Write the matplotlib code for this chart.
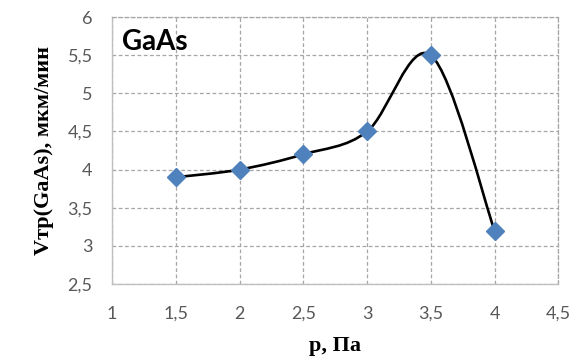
import matplotlib
matplotlib.use("Agg")
import matplotlib.pyplot as plt
import numpy as np
from matplotlib.path import Path
from matplotlib.patches import PathPatch

# Data
pressure = [1.5, 2.0, 2.5, 3.0, 3.5, 4.0]
rate = [3.9, 4.0, 4.2, 4.5, 5.5, 3.2]

x_ticks = [1, 1.5, 2, 2.5, 3, 3.5, 4, 4.5]
y_ticks = [2.5, 3, 3.5, 4, 4.5, 5, 5.5, 6]

MARKER_BLUE = "#4f81bd"
TICK_GRAY = "#595959"
GRID_GRAY = "#a6a6a6"


def fmt(v):
    s = f"{v:g}"
    return s.replace(".", ",")


def smooth_path(xs, ys):
    """Excel-like smoothed line as cubic Bezier segments."""
    pts = np.column_stack([xs, ys])
    n = len(pts)
    verts = [pts[0]]
    codes = [Path.MOVETO]
    for i in range(n - 1):
        p0 = pts[i - 1] if i > 0 else pts[i]
        p1 = pts[i]
        p2 = pts[i + 1]
        p3 = pts[i + 2] if i + 2 < n else pts[i + 1]
        c1 = p1 + (p2 - p0) / 6.0
        c2 = p2 - (p3 - p1) / 6.0
        verts += [c1, c2, p2]
        codes += [Path.CURVE4] * 3
    return Path(verts, codes)


fig = plt.figure(figsize=(5.72, 3.58), dpi=100)
ax = fig.add_axes([0.196, 0.207, 0.78, 0.745])

ax.add_patch(PathPatch(smooth_path(pressure, rate), facecolor="none",
                       edgecolor="black", linewidth=1.9, zorder=3))
ax.plot(pressure, rate, linestyle="none", marker="D", markersize=9,
        color=MARKER_BLUE, zorder=4)

ax.set_xlim(1, 4.5)
ax.set_ylim(2.5, 6)
ax.set_xticks(x_ticks)
ax.set_yticks(y_ticks)
ax.set_xticklabels([fmt(v) for v in x_ticks])
ax.set_yticklabels([fmt(v) for v in y_ticks])
ax.tick_params(axis="both", length=0, labelsize=13, labelcolor=TICK_GRAY)
ax.tick_params(axis="x", pad=16)
ax.tick_params(axis="y", pad=14)
for lab in ax.get_xticklabels() + ax.get_yticklabels():
    lab.set_family("Lato")

ax.grid(True, color=GRID_GRAY, linestyle=(0, (3, 2)), linewidth=0.9)
for side in ["left", "bottom"]:
    ax.spines[side].set_color("#bfbfbf")
    ax.spines[side].set_linewidth(1.0)
for side in ["top", "right"]:
    ax.spines[side].set_color(GRID_GRAY)
    ax.spines[side].set_linestyle((0, (3, 2)))
    ax.spines[side].set_linewidth(0.9)

ax.set_xlabel("p, Па", family="Liberation Serif", fontweight="bold",
              fontsize=16, labelpad=10)
ax.set_ylabel("Vтр(GaAs), мкм/мин", family="Liberation Serif",
              fontweight="bold", fontsize=16, labelpad=10)

ax.text(0.022, 0.955, "GaAs", transform=ax.transAxes, family="Lato",
        fontweight="bold", fontsize=20, va="top", ha="left")

fig.savefig("out.png", dpi=100, facecolor="white")
